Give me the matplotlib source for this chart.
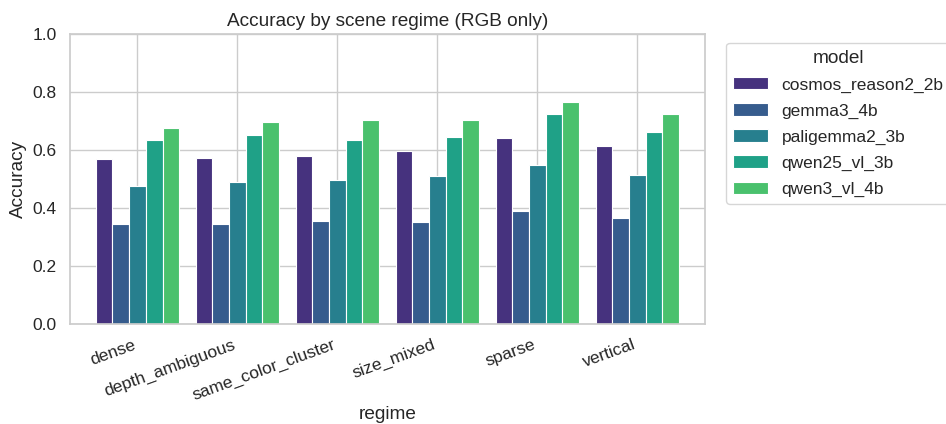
import matplotlib
matplotlib.use("Agg")
import matplotlib.pyplot as plt
import numpy as np
import seaborn as sns

regimes = ["dense", "depth_ambiguous", "same_color_cluster", "size_mixed", "sparse", "vertical"]
models = ["cosmos_reason2_2b", "gemma3_4b", "paligemma2_3b", "qwen25_vl_3b", "qwen3_vl_4b"]

# accuracy per regime, one list per model
cosmos_reason2_2b = [0.569, 0.573, 0.579, 0.596, 0.642, 0.612]
gemma3_4b = [0.343, 0.345, 0.354, 0.352, 0.388, 0.366]
paligemma2_3b = [0.476, 0.488, 0.495, 0.511, 0.549, 0.512]
qwen25_vl_3b = [0.633, 0.651, 0.633, 0.645, 0.723, 0.661]
qwen3_vl_4b = [0.675, 0.697, 0.704, 0.702, 0.766, 0.725]

acc = [cosmos_reason2_2b, gemma3_4b, paligemma2_3b, qwen25_vl_3b, qwen3_vl_4b]

sns.set_theme(style="whitegrid")
plt.rcParams["font.family"] = ["Liberation Sans", "DejaVu Sans"]

fig = plt.figure(figsize=(9.46, 4.24), dpi=100)
ax = fig.add_axes([0.074, 0.236, 0.671, 0.684])

colors = sns.color_palette("viridis", 6)[:5]
x = np.arange(len(regimes))
w = 0.167
for i, (m, vals) in enumerate(zip(models, acc)):
    ax.bar(x + (i - 2) * w, vals, width=w, color=colors[i], label=m,
           edgecolor="white", linewidth=0.8, zorder=2)

ax.set_xlim(-0.675, len(regimes) - 1 + 0.675)
ax.set_ylim(0, 1.0)
ax.set_xticks(x)
ax.set_xticklabels(regimes, rotation=20, ha="right", fontsize=12.5)
ax.tick_params(axis="y", labelsize=12.5)
ax.set_axisbelow(True)
ax.set_title("Accuracy by scene regime (RGB only)", fontsize=13.7)
ax.set_ylabel("Accuracy", fontsize=13.7)
ax.set_xlabel("regime", fontsize=13.7, labelpad=2)
ax.legend(title="model", bbox_to_anchor=(1.02, 1), loc="upper left",
          fontsize=12.5, title_fontsize=13.7, labelspacing=0.62)

fig.savefig("out.png", dpi=100)
